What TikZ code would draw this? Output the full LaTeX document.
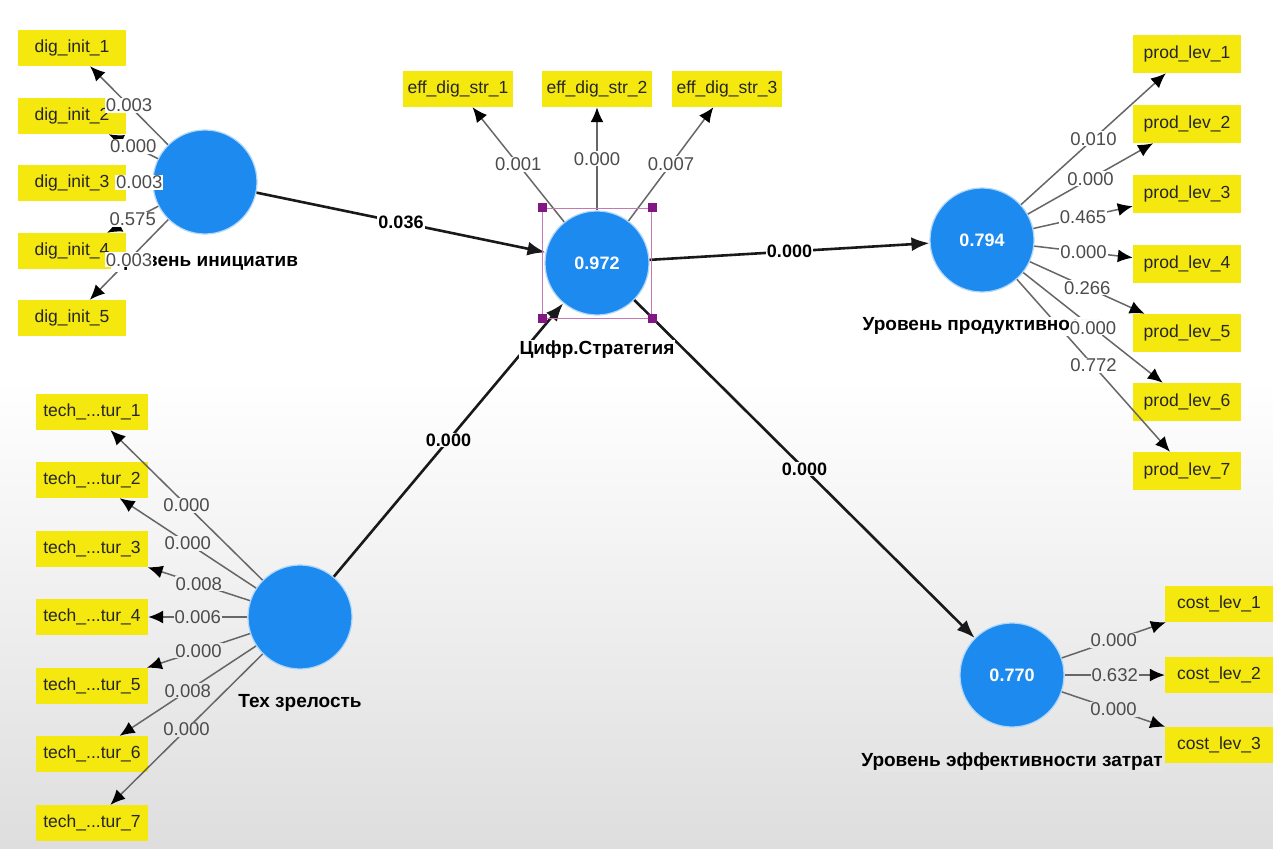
\documentclass[tikz,border=0pt]{standalone}
\usepackage{fontspec}
\setmainfont{Liberation Sans}
\usetikzlibrary{arrows.meta,positioning}

\definecolor{plsblue}{RGB}{28,138,238}
\definecolor{plsyellow}{RGB}{244,232,14}
\definecolor{selline}{RGB}{196,120,180}
\definecolor{selcorner}{RGB}{130,22,130}

\begin{document}
\begin{tikzpicture}[x=1pt, y=-1pt, node distance=24pt,
  latent/.style={circle, fill=plsblue, draw=plsblue!35!white, line width=1.2pt,
                 minimum size=104pt, inner sep=0pt, text=white,
                 font=\bfseries\fontsize{18}{21}\selectfont},
  indicator/.style={rectangle, fill=plsyellow, minimum width=108pt, minimum height=36pt,
                    inner sep=2pt, text=black!85, font=\fontsize{17.5}{20}\selectfont},
  lvname/.style={fill=white, inner sep=1pt, font=\bfseries\fontsize{19}{22}\selectfont},
  innerpath/.style={-{Latex[length=18pt,width=14pt]}, line width=2.6pt, black!90},
  outerpath/.style={-{Latex[length=15pt,width=13pt,color=black,fill=black]},
                    line width=1.5pt, black!60},
  coef/.style={fill=white, inner sep=1pt, text=black!70, font=\fontsize{18.5}{21}\selectfont},
  pathcoef/.style={coef, text=black, font=\bfseries\fontsize{18}{21}\selectfont},
  selbox/.style={draw=selline, line width=1pt, minimum width=109pt, minimum height=110pt}]

  \useasboundingbox (0,0) rectangle (1273,848);
  \fill[white] (0,0) rectangle (1273,848);
  \shade[top color=white, bottom color=black!13] (0,380) rectangle (1273,848);

  % latent variables
  \node[latent] (Init)  at (205,182)  {};
  \node[latent] (Strat) at (597,263)  {0.972};
  \node[latent] (Prod)  at (982,240)  {0.794};
  \node[latent] (Tech)  at (300,617)  {};
  \node[latent] (Cost)  at (1012,675) {0.770};

  % indicators
  \node[indicator] (DI1) at (72,48)  {dig\_init\_1};
  \node[indicator] (DI2) at (72,116) {dig\_init\_2};
  \node[indicator] (DI3) at (72,183) {dig\_init\_3};
  \node[indicator] (DI4) at (72,251) {dig\_init\_4};
  \node[indicator] (DI5) at (72,318) {dig\_init\_5};

  \node[indicator, minimum width=110pt] (ES1) at (458,89) {eff\_dig\_str\_1};
  \node[indicator, minimum width=110pt] (ES2) at (597,89) {eff\_dig\_str\_2};
  \node[indicator, minimum width=110pt] (ES3) at (727,89) {eff\_dig\_str\_3};

  \node[indicator, minimum height=38pt] (PL1) at (1187,54)  {prod\_lev\_1};
  \node[indicator, minimum height=38pt] (PL2) at (1187,124) {prod\_lev\_2};
  \node[indicator, minimum height=38pt] (PL3) at (1187,194) {prod\_lev\_3};
  \node[indicator, minimum height=38pt] (PL4) at (1187,264) {prod\_lev\_4};
  \node[indicator, minimum height=38pt] (PL5) at (1187,333) {prod\_lev\_5};
  \node[indicator, minimum height=38pt] (PL6) at (1187,402) {prod\_lev\_6};
  \node[indicator, minimum height=38pt] (PL7) at (1187,471) {prod\_lev\_7};

  \node[indicator, minimum width=112pt] (TM1) at (92,412) {tech\_...tur\_1};
  \node[indicator, minimum width=112pt] (TM2) at (92,480) {tech\_...tur\_2};
  \node[indicator, minimum width=112pt] (TM3) at (92,549) {tech\_...tur\_3};
  \node[indicator, minimum width=112pt] (TM4) at (92,617) {tech\_...tur\_4};
  \node[indicator, minimum width=112pt] (TM5) at (92,686) {tech\_...tur\_5};
  \node[indicator, minimum width=112pt] (TM6) at (92,754) {tech\_...tur\_6};
  \node[indicator, minimum width=112pt] (TM7) at (92,823) {tech\_...tur\_7};

  \node[indicator] (CL1) at (1219,604) {cost\_lev\_1};
  \node[indicator] (CL2) at (1219,675) {cost\_lev\_2};
  \node[indicator] (CL3) at (1219,745) {cost\_lev\_3};

  % structural model
  \path[innerpath] (Init)  edge node[pathcoef] {0.036} (Strat)
                   (Tech)  edge node[pathcoef, fill=black!1.5] {0.000} (Strat)
                   (Strat) edge node[pathcoef] {0.000} (Prod)
                           edge node[pathcoef, fill=black!2.5] {0.000} (Cost);

  % measurement model
  \path[outerpath] (Init)  edge (DI1) edge (DI2) edge (DI3) edge (DI4) edge (DI5)
                   (Strat) edge (ES1) edge (ES2) edge (ES3)
                   (Prod)  edge (PL1) edge (PL2) edge (PL3) edge (PL4)
                           edge (PL5) edge (PL6) edge (PL7)
                   (Tech)  edge (TM1) edge (TM2) edge (TM3) edge (TM4)
                           edge (TM5) edge (TM6) edge (TM7)
                   (Cost)  edge (CL1) edge (CL2) edge (CL3);

  % selection frame
  \node[selbox] (Sel) at (Strat) {};
  \foreach \c in {north west,north east,south west,south east}
    \fill[selcorner] (Sel.\c) +(-4.5,-4.5) rectangle +(4.5,4.5);

  % names
  \node[lvname]                (InitName)  [below=18pt of Init] {Уровень инициатив};
  \node[lvname]                (StratName) [below=of Strat]     {Цифр.Стратегия};
  \node[lvname]                (ProdName)  [below=of Prod]      {Уровень продуктивности};
  \node[lvname, fill=black!9]  (TechName)  [below=of Tech]      {Тех зрелость};
  \node[lvname, fill=black!10] (CostName)  [below=of Cost]      {Уровень эффективности затрат};

  % loadings
  \path (Init)  -- node[coef] {0.003} (DI1)
        (Init)  -- node[coef] {0.000} (DI2)
        (Init)  -- node[coef] {0.003} (DI3)
        (Init)  -- node[coef] {0.575} (DI4)
        (Init)  -- node[coef] {0.003} (DI5)
        (Strat) -- node[coef] {0.001} (ES1)
        (Strat) -- node[coef] {0.000} (ES2)
        (Strat) -- node[coef] {0.007} (ES3)
        (Prod)  -- node[coef] {0.010} (PL1)
        (Prod)  -- node[coef] {0.000} (PL2)
        (Prod)  -- node[coef] {0.465} (PL3)
        (Prod)  -- node[coef] {0.000} (PL4)
        (Prod)  -- node[coef] {0.266} (PL5)
        (Prod)  -- node[coef] {0.000} (PL6)
        (Prod)  -- node[coef] {0.772} (PL7)
        (Tech)  -- node[coef, fill=black!3.5] {0.000} (TM1)
        (Tech)  -- node[coef, fill=black!4.5] {0.000} (TM2)
        (Tech)  -- node[coef, fill=black!5.5] {0.008} (TM3)
        (Tech)  -- node[coef, fill=black!6.5] {0.006} (TM4)
        (Tech)  -- node[coef, fill=black!7.5] {0.000} (TM5)
        (Tech)  -- node[coef, fill=black!8.5] {0.008} (TM6)
        (Tech)  -- node[coef, fill=black!9.5] {0.000} (TM7)
        (Cost)  -- node[coef, fill=black!7]   {0.000} (CL1)
        (Cost)  -- node[coef, fill=black!8]   {0.632} (CL2)
        (Cost)  -- node[coef, fill=black!9]   {0.000} (CL3);
\end{tikzpicture}
\end{document}
